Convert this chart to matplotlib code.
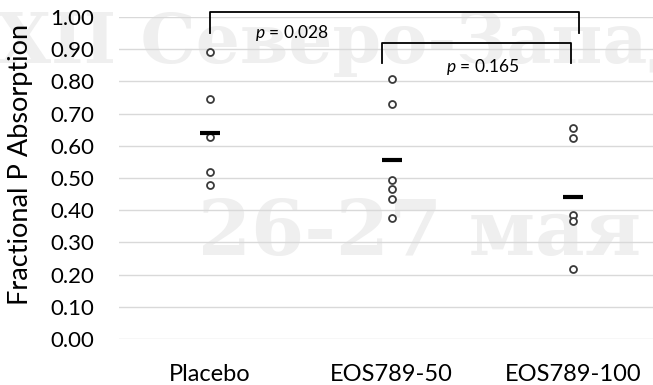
import matplotlib
matplotlib.use("Agg")
from matplotlib import pyplot as plt

groups = ["Placebo", "EOS789-50", "EOS789-100"]
placebo = [0.89, 0.745, 0.628, 0.519, 0.477]
eos_50 = [0.808, 0.73, 0.494, 0.466, 0.435, 0.376]
eos_100 = [0.655, 0.625, 0.385, 0.368, 0.217]
group_means = [0.64, 0.555, 0.442]
y_ticks = [0.0, 0.1, 0.2, 0.3, 0.4, 0.5, 0.6, 0.7, 0.8, 0.9, 1.0]

# brackets: (x left, x right, y bottom, y top, label, label x, label y)
comparisons = [
    (0.0, 2.03, 0.95, 1.014, "0.028", 0.45, 0.95),
    (0.95, 1.99, 0.857, 0.919, "0.165", 1.5, 0.845),
]

plt.rcParams['font.family'] = ['Lato', 'DejaVu Sans']
plt.rcParams['mathtext.fontset'] = 'custom'
plt.rcParams['mathtext.it'] = 'Lato:italic'
plt.rcParams['mathtext.rm'] = 'Lato'

fig = plt.figure(figsize=(6.53, 3.85), dpi=100)

# faint conference watermark behind the chart
wm = dict(family='DejaVu Serif', weight='bold', color='#efefef', zorder=-5)
fig.text(-0.004, 0.836, "XII Северо-Западный", fontsize=50, **wm)
fig.text(0.303, 0.338, "26-27 мая", fontsize=55, **wm)

ax = fig.add_axes([119 / 653, 46 / 385, 545 / 653, 322 / 385])
ax.patch.set_alpha(0)

for i, vals in enumerate([placebo, eos_50, eos_100]):
    ax.plot([i] * len(vals), vals, 'o', ms=5, mfc='white', mec='#3a3a3a',
            mew=1.3, zorder=3, clip_on=False)
ax.plot(range(len(groups)), group_means, '_', ms=14.5, mew=3, color='black',
        zorder=4, ls='none')

for x0, x1, y0, y1, p, tx, ty in comparisons:
    ax.plot([x0, x0, x1, x1], [y0, y1, y1, y0], color='black', lw=1.3,
            clip_on=False, zorder=5)
    ax.text(tx, ty, r"$\it{p}$ = " + p, ha='center', va='center', fontsize=12.5,
            zorder=5)

ax.set_xlim(-0.5, 2.5)
ax.set_ylim(0, 1.0)
ax.set_yticks(y_ticks)
ax.set_yticklabels([f"{v:.2f}" for v in y_ticks], fontsize=16)
ax.set_xticks(range(len(groups)))
ax.set_xticklabels(groups, fontsize=17)
ax.tick_params(axis='y', length=0, pad=18)
ax.tick_params(axis='x', length=0, pad=18)
ax.grid(axis='y', color='#d9d9d9', lw=1)
ax.set_axisbelow(True)
for s in ax.spines.values():
    s.set_visible(False)
ax.set_ylabel("Fractional P Absorption", fontsize=19.5)
ax.yaxis.set_label_coords(-0.158, 0.543)

fig.savefig("out.png", dpi=100)
